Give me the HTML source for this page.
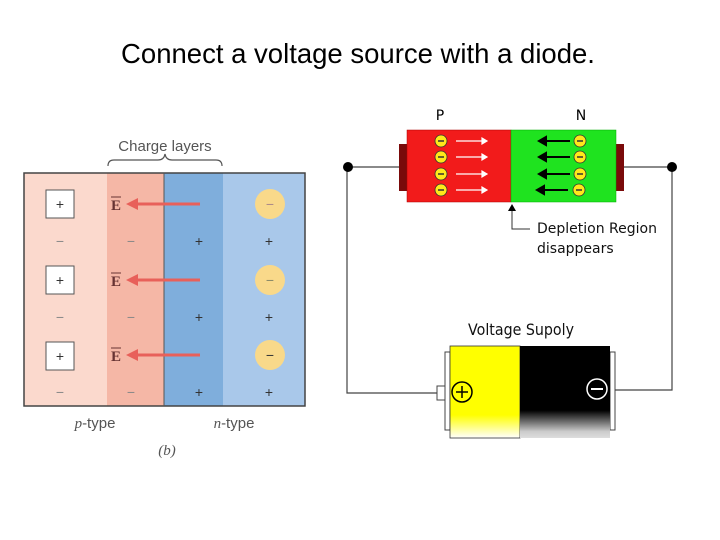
<!DOCTYPE html>
<html><head><style>
body{margin:0;width:720px;height:540px;background:#fff;position:relative;font-family:"Liberation Sans",sans-serif;overflow:hidden}
.a{position:absolute}
</style></head><body>
<svg class="a" style="left:0;top:0" width="720" height="540">
<text x="358" y="63" font-size="27.5" text-anchor="middle" font-family="Liberation Sans" fill="#000">Connect a voltage source with a diode.</text>
<!-- left panel -->
<text x="165" y="151" font-size="15" text-anchor="middle" fill="#555" font-family="Liberation Sans">Charge layers</text>
<path d="M108 166 q0 -6 6 -6 h44 q6 0 7 -6 q1 6 7 6 h44 q6 0 6 6" fill="none" stroke="#555" stroke-width="1.2"/>
<rect x="24" y="173" width="83" height="233" fill="#fbd9cd"/>
<rect x="107" y="173" width="57" height="233" fill="#f5b7a6"/>
<rect x="164" y="173" width="59" height="233" fill="#7faedc"/>
<rect x="223" y="173" width="82" height="233" fill="#a9c8ea"/>
<rect x="24" y="173" width="281" height="233" fill="none" stroke="#444" stroke-width="1.5"/>
<line x1="164" y1="173" x2="164" y2="406" stroke="#555"/>
<g font-family="Liberation Sans" font-size="14" fill="#333" text-anchor="middle">
<g fill="#fff" stroke="#555"><rect x="46" y="190" width="28" height="28"/><rect x="46" y="266" width="28" height="28"/><rect x="46" y="342" width="28" height="28"/></g>
<text x="60" y="209">+</text><text x="60" y="285">+</text><text x="60" y="361">+</text>
<g fill="#f9d98a"><circle cx="270" cy="204" r="15"/><circle cx="270" cy="280" r="15"/><circle cx="270" cy="355" r="15"/></g>
<text x="270" y="209" fill="#a88">−</text><text x="270" y="285" fill="#886">−</text><text x="270" y="360">−</text>
<text x="60" y="246" fill="#888">−</text><text x="131" y="246" fill="#888">−</text><text x="199" y="246">+</text><text x="269" y="246">+</text>
<text x="60" y="322" fill="#888">−</text><text x="131" y="322" fill="#888">−</text><text x="199" y="322">+</text><text x="269" y="322">+</text>
<text x="60" y="397" fill="#888">−</text><text x="131" y="397" fill="#888">−</text><text x="199" y="397">+</text><text x="269" y="397">+</text>
<g font-family="Liberation Serif" font-weight="bold" font-size="15" fill="#633"><text x="116" y="210">E</text><text x="116" y="286">E</text><text x="116" y="361">E</text></g>
</g>
<g stroke="#633" stroke-width="1"><path d="M111 197h10M111 273h10M111 348h10"/></g>
<g stroke="#e8605a" stroke-width="3" fill="#e8605a"><path d="M200 204H134M200 280H134M200 355H134"/>
<path d="M126 204l12 -6v12zM126 280l12 -6v12zM126 355l12 -6v12z" stroke="none"/></g>
<text x="95" y="428" font-size="15" fill="#555" text-anchor="middle"><tspan font-family="Liberation Serif" font-style="italic">p</tspan>-type</text>
<text x="234" y="428" font-size="15" fill="#555" text-anchor="middle"><tspan font-family="Liberation Serif" font-style="italic">n</tspan>-type</text>
<text x="167" y="455" font-size="15" fill="#555" text-anchor="middle" font-family="Liberation Serif" font-style="italic">(b)</text>

<!-- circuit -->
<g stroke="#444" stroke-width="1.2" fill="none">
<path d="M348 167H399M624 167H672M347 167V393H437M672 167V390H615"/>
</g>
<circle cx="348" cy="167" r="5" fill="#000"/><circle cx="672" cy="167" r="5" fill="#000"/>
<rect x="399" y="144" width="8" height="47" fill="#7a0a0a"/>
<rect x="616" y="144" width="8" height="47" fill="#7a0a0a"/>
<rect x="407" y="130" width="104" height="72" fill="#f21b1b" stroke="#a00" stroke-width="0.5"/>
<rect x="511" y="130" width="105" height="72" fill="#1fe31f" stroke="#0a0" stroke-width="0.5"/>
<text x="440" y="120" font-size="14" text-anchor="middle" font-family="DejaVu Sans">P</text>
<text x="581" y="120" font-size="14" text-anchor="middle" font-family="DejaVu Sans">N</text>
<g stroke="#333" stroke-width="0.8" fill="#ffe81a">
<circle cx="441" cy="141" r="6"/><circle cx="441" cy="157" r="6"/><circle cx="441" cy="174" r="6"/><circle cx="441" cy="190" r="6"/>
<circle cx="580" cy="141" r="6"/><circle cx="580" cy="157" r="6"/><circle cx="580" cy="174" r="6"/><circle cx="579" cy="190" r="6"/>
</g>
<g stroke="#333" stroke-width="1.5"><path d="M438 141h6M438 157h6M438 174h6M438 190h6M577 141h6M577 157h6M577 174h6M576 190h6"/></g>
<g stroke="#fff" stroke-width="1.2" fill="#fff"><path d="M456 141h26M456 157h26M456 174h26M456 190h26"/>
<path d="M487 141l-5 -3v6zM487 157l-5 -3v6zM487 174l-5 -3v6zM487 190l-5 -3v6z"/></g>
<g stroke="#000" stroke-width="2" fill="#000"><path d="M570 141h-24M570 157h-24M570 174h-24M568 190h-24"/>
<path d="M539 141l7 -4v8zM539 157l7 -4v8zM539 174l7 -4v8zM537 190l7 -4v8z"/></g>
<path d="M512 207V229H530" stroke="#333" fill="none"/><path d="M512 204l-4 7h8z" fill="#000"/>
<text x="537" y="233" font-size="14" font-family="DejaVu Sans" fill="#111">Depletion Region</text>
<text x="537" y="253" font-size="14" font-family="DejaVu Sans" fill="#111">disappears</text>

<!-- battery -->
<text x="521" y="335" font-size="16" text-anchor="middle" font-family="DejaVu Sans" fill="#111" textLength="106" lengthAdjust="spacingAndGlyphs">Voltage Supoly</text>
<rect x="437" y="386" width="9" height="14" fill="#fff" stroke="#444"/>
<rect x="445" y="352" width="5" height="78" fill="#fff" stroke="#444"/>
<rect x="610" y="352" width="5" height="78" fill="#fff" stroke="#444"/>
<defs>
<linearGradient id="gy" x1="0" y1="0" x2="0" y2="1"><stop offset="0.75" stop-color="#ffff00"/><stop offset="1" stop-color="#fff"/></linearGradient>
<linearGradient id="gb" x1="0" y1="0" x2="0" y2="1"><stop offset="0.7" stop-color="#000"/><stop offset="0.93" stop-color="#ccc"/><stop offset="1" stop-color="#ddd"/></linearGradient>
</defs>
<rect x="450" y="346" width="70" height="92" fill="url(#gy)" stroke="#333" stroke-width="0.8"/>
<rect x="520" y="346" width="90" height="92" fill="url(#gb)"/>
<circle cx="462" cy="392" r="10" fill="none" stroke="#000" stroke-width="1.5"/>
<path d="M456 392h12M462 386v12" stroke="#000" stroke-width="1.5"/>
<circle cx="597" cy="389" r="10" fill="none" stroke="#fff" stroke-width="1.5"/>
<path d="M591 389h12" stroke="#fff" stroke-width="2"/>
</svg>
</body></html>
